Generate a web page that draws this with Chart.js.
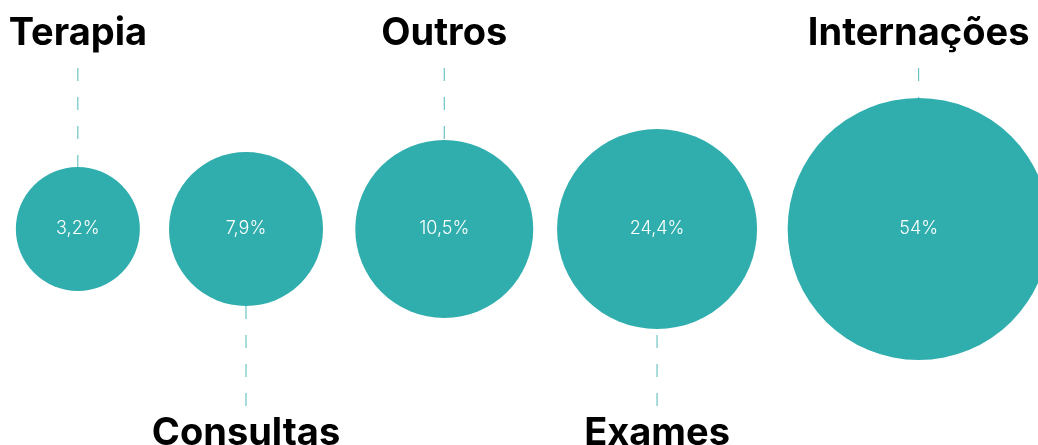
<!DOCTYPE html>
<html>
<head>
<meta charset="utf-8">
<script src="https://cdn.jsdelivr.net/npm/chart.js@4/dist/chart.umd.min.js"></script>
<style>
  html, body { margin: 0; padding: 0; background: #fff; }
  #wrap { width: 1038px; height: 445px; }
</style>
</head>
<body>
<div id="wrap"><canvas id="bolhas"></canvas></div>
<script>
// dados
const categorias = ['Terapia', 'Consultas', 'Outros', 'Exames', 'Internações'];
const percentuais = ['3,2%', '7,9%', '10,5%', '24,4%', '54%'];
const posicaoX = [7.5, 23.7, 42.8, 63.3, 88.5];   // posicao horizontal (0-100)
const raios = [62, 77, 89, 100, 131];              // tamanho da bolha
const ladoRotulo = ['top', 'bottom', 'top', 'bottom', 'top'];

const corBolha = '#30adad';

const pontos = [];
for (var i = 0; i < categorias.length; i++) {
    pontos.push({ x: posicaoX[i], y: 0, r: raios[i] });
}

const rotulos = {
    id: 'rotulos',
    afterDatasetsDraw(chart) {
        const ctx = chart.ctx;
        const meta = chart.getDatasetMeta(0);
        ctx.save();
        meta.data.forEach(function (pt, i) {
            const r = raios[i];
            // linha tracejada
            ctx.strokeStyle = 'rgba(48, 173, 173, 0.85)';
            ctx.lineWidth = 1;
            ctx.setLineDash([13, 16]);
            ctx.beginPath();
            if (ladoRotulo[i] === 'top') {
                ctx.moveTo(pt.x, 68);
                ctx.lineTo(pt.x, pt.y - r);
            } else {
                ctx.moveTo(pt.x, 406);
                ctx.lineTo(pt.x, pt.y + r);
            }
            ctx.stroke();
            ctx.setLineDash([]);

            // nome da categoria
            ctx.fillStyle = '#000';
            ctx.font = '700 38px Inter';
            ctx.textAlign = 'center';
            ctx.textBaseline = 'alphabetic';
            const y = ladoRotulo[i] === 'top' ? 45 : 445;
            ctx.fillText(categorias[i], pt.x, y);

            // percentual
            ctx.fillStyle = '#fff';
            ctx.font = '300 18px Inter';
            ctx.textBaseline = 'middle';
            ctx.fillText(percentuais[i], pt.x, pt.y);
        });
        ctx.restore();
    }
};

const ctx = document.getElementById('bolhas').getContext('2d');
const myChart = new Chart(ctx, {
    type: 'bubble',
    data: {
        datasets: [{
            data: pontos,
            backgroundColor: corBolha,
            borderWidth: 0,
            hoverRadius: 0,
            clip: false
        }]
    },
    options: {
        responsive: true,
        maintainAspectRatio: false,
        animation: false,
        layout: { autoPadding: false, padding: { top: 13, left: 0, right: 0, bottom: 0 } },
        plugins: {
            legend: { display: false },
            tooltip: { enabled: false }
        },
        scales: {
            x: { type: 'linear', min: 0, max: 100, display: false },
            y: { type: 'linear', min: -1, max: 1, display: false }
        }
    },
    plugins: [rotulos]
});
</script>
</body>
</html>
